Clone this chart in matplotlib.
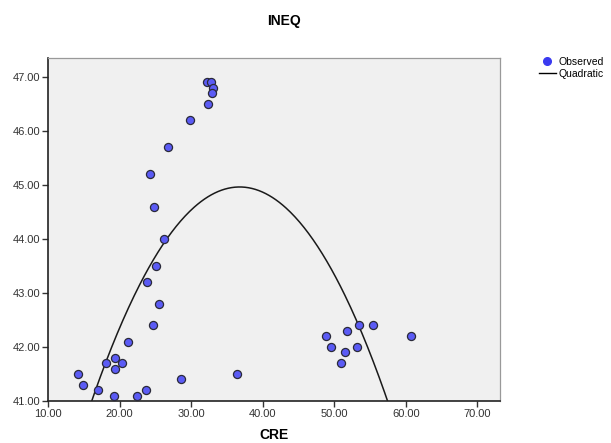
import numpy as np
import matplotlib
matplotlib.use("Agg")
import matplotlib.pyplot as plt
from matplotlib.lines import Line2D

plt.rcParams["font.family"] = ["Liberation Sans", "DejaVu Sans"]

# observed points (CRE, INEQ)
cre = [32.2, 32.75, 33.1, 32.94, 32.3, 29.86, 26.83, 24.3, 24.87, 26.27,
       25.15, 23.85, 25.52, 24.73, 21.15, 19.33, 18.15, 20.4, 19.42, 14.15,
       14.94, 17.04, 19.28, 22.45, 23.7, 28.65, 36.39, 48.9, 49.5, 51.86,
       51.45, 50.94, 53.45, 55.45, 53.22, 60.8]
ineq = [46.9, 46.9, 46.8, 46.7, 46.5, 46.2, 45.7, 45.2, 44.6, 44.0,
        43.5, 43.2, 42.8, 42.4, 42.1, 41.8, 41.7, 41.7, 41.6, 41.5,
        41.3, 41.2, 41.1, 41.1, 41.2, 41.4, 41.5, 42.2, 42.0, 42.3,
        41.9, 41.7, 42.4, 42.4, 42.0, 42.2]

# quadratic fit coefficients: INEQ = b0 + b1*CRE + b2*CRE^2
b0, b1, b2 = 32.42, 0.682, -0.00927

xticks = [10, 20, 30, 40, 50, 60, 70]
yticks = [41, 42, 43, 44, 45, 46, 47]

fig = plt.figure(figsize=(6.11, 4.43), dpi=100)
ax = fig.add_axes([0.0786, 0.0948, 0.740, 0.774])
ax.set_facecolor("#f0f0f0")

xs = np.linspace(10, 73.2, 400)
ax.plot(xs, b0 + b1 * xs + b2 * xs ** 2, color="#1a1a1a", lw=1.1, zorder=2)
ax.scatter(cre, ineq, s=34, c="#5b5bf5", edgecolors="#2a2a3a",
           linewidths=0.9, zorder=3)

ax.set_xlim(10, 73.2)
ax.set_ylim(41, 47.35)
ax.set_xticks(xticks)
ax.set_xticklabels([f"{t:.2f}" for t in xticks])
ax.set_yticks(yticks)
ax.set_yticklabels([f"{t:.2f}" for t in yticks])
ax.tick_params(direction="out", length=4, width=1, labelsize=8,
               colors="#333333", labelcolor="#333333", pad=1.5)
for side in ["left", "bottom"]:
    ax.spines[side].set_color("#222222")
    ax.spines[side].set_linewidth(1.2)
for side in ["top", "right"]:
    ax.spines[side].set_color("#999999")
    ax.spines[side].set_linewidth(0.9)

ax.set_xlabel("CRE", fontsize=10, fontweight="bold", labelpad=7)
fig.text(0.465, 0.953, "INEQ", fontsize=10, fontweight="bold",
         ha="center", va="center")

handles = [
    Line2D([], [], marker="o", ls="none", markersize=5.5,
           markerfacecolor="#3a3af0", markeredgecolor="#3a3af0"),
    Line2D([], [], color="black", lw=1.0),
]
fig.legend(handles, ["Observed", "Quadratic"], loc="upper left",
           bbox_to_anchor=(0.882, 0.872), frameon=False, fontsize=7.5,
           handlelength=1.6, handletextpad=0.3, labelspacing=0.2,
           borderpad=0, borderaxespad=0)

fig.savefig("out.png", dpi=100)
